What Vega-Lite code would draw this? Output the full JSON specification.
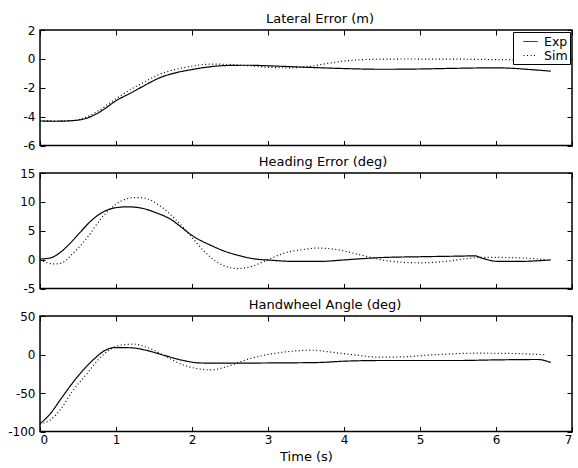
{
  "$schema": "https://vega.github.io/schema/vega-lite/v6.json",
  "padding": {"left": 7, "top": 12, "right": 0, "bottom": 0},
  "background": "white",
  "config": {
    "font": "DejaVu Sans",
    "view": {"stroke": "black", "strokeWidth": 1.5},
    "axis": {
      "domain": false, "grid": false, "tickColor": "black", "tickSize": -5, "tickWidth": 1,
      "labelColor": "black", "labelFont": "DejaVu Sans", "labelFontSize": 12, "labelPadding": 10,
      "labelExpr": "replace(datum.label, '\u2212', '-')",
      "titleFont": "DejaVu Sans", "titleFontSize": 13, "titleFontWeight": "normal", "titleColor": "black"
    },
    "title": {"font": "DejaVu Sans", "fontSize": 13, "fontWeight": "normal", "color": "black", "anchor": "middle", "baseline": "alphabetic", "offset": -2},
    "legend": {"labelFont": "DejaVu Sans", "labelFontSize": 12.5, "labelColor": "black"}
  },
  "datasets": {
    "d": [
      {"p":"lat","s":"Exp","t":0,"v":-4.3},{"p":"lat","s":"Exp","t":0.2,"v":-4.32},{"p":"lat","s":"Exp","t":0.42,"v":-4.28},{"p":"lat","s":"Exp","t":0.62,"v":-4.1},{"p":"lat","s":"Exp","t":0.81,"v":-3.6},{"p":"lat","s":"Exp","t":1.0,"v":-2.9},{"p":"lat","s":"Exp","t":1.2,"v":-2.35},{"p":"lat","s":"Exp","t":1.39,"v":-1.8},{"p":"lat","s":"Exp","t":1.58,"v":-1.3},{"p":"lat","s":"Exp","t":1.78,"v":-0.97},{"p":"lat","s":"Exp","t":2.0,"v":-0.74},{"p":"lat","s":"Exp","t":2.16,"v":-0.6},{"p":"lat","s":"Exp","t":2.45,"v":-0.46},{"p":"lat","s":"Exp","t":2.74,"v":-0.44},{"p":"lat","s":"Exp","t":3.0,"v":-0.48},{"p":"lat","s":"Exp","t":3.5,"v":-0.58},{"p":"lat","s":"Exp","t":4.0,"v":-0.67},{"p":"lat","s":"Exp","t":4.5,"v":-0.72},{"p":"lat","s":"Exp","t":5.0,"v":-0.7},{"p":"lat","s":"Exp","t":5.5,"v":-0.65},{"p":"lat","s":"Exp","t":6.0,"v":-0.62},{"p":"lat","s":"Exp","t":6.2,"v":-0.65},{"p":"lat","s":"Exp","t":6.45,"v":-0.74},{"p":"lat","s":"Exp","t":6.72,"v":-0.85},
      {"p":"lat","s":"Sim","t":0,"v":-4.3},{"p":"lat","s":"Sim","t":0.4,"v":-4.28},{"p":"lat","s":"Sim","t":0.6,"v":-4.05},{"p":"lat","s":"Sim","t":0.8,"v":-3.5},{"p":"lat","s":"Sim","t":1.0,"v":-2.75},{"p":"lat","s":"Sim","t":1.2,"v":-2.1},{"p":"lat","s":"Sim","t":1.39,"v":-1.55},{"p":"lat","s":"Sim","t":1.58,"v":-1.05},{"p":"lat","s":"Sim","t":1.78,"v":-0.74},{"p":"lat","s":"Sim","t":1.95,"v":-0.55},{"p":"lat","s":"Sim","t":2.1,"v":-0.42},{"p":"lat","s":"Sim","t":2.3,"v":-0.36},{"p":"lat","s":"Sim","t":2.5,"v":-0.4},{"p":"lat","s":"Sim","t":2.8,"v":-0.5},{"p":"lat","s":"Sim","t":3.0,"v":-0.58},{"p":"lat","s":"Sim","t":3.3,"v":-0.62},{"p":"lat","s":"Sim","t":3.55,"v":-0.52},{"p":"lat","s":"Sim","t":3.8,"v":-0.3},{"p":"lat","s":"Sim","t":4.1,"v":-0.1},{"p":"lat","s":"Sim","t":4.3,"v":-0.04},{"p":"lat","s":"Sim","t":4.8,"v":-0.01},{"p":"lat","s":"Sim","t":5.5,"v":-0.02},{"p":"lat","s":"Sim","t":6.0,"v":-0.05},{"p":"lat","s":"Sim","t":6.7,"v":-0.08},
      {"p":"head","s":"Exp","t":0,"v":0.1},{"p":"head","s":"Exp","t":0.14,"v":0.3},{"p":"head","s":"Exp","t":0.23,"v":0.9},{"p":"head","s":"Exp","t":0.38,"v":2.6},{"p":"head","s":"Exp","t":0.52,"v":4.6},{"p":"head","s":"Exp","t":0.67,"v":6.7},{"p":"head","s":"Exp","t":0.81,"v":8.1},{"p":"head","s":"Exp","t":0.96,"v":8.9},{"p":"head","s":"Exp","t":1.15,"v":9.15},{"p":"head","s":"Exp","t":1.34,"v":8.9},{"p":"head","s":"Exp","t":1.53,"v":8.1},{"p":"head","s":"Exp","t":1.73,"v":6.9},{"p":"head","s":"Exp","t":1.87,"v":5.5},{"p":"head","s":"Exp","t":2.0,"v":4.2},{"p":"head","s":"Exp","t":2.13,"v":3.2},{"p":"head","s":"Exp","t":2.26,"v":2.4},{"p":"head","s":"Exp","t":2.4,"v":1.6},{"p":"head","s":"Exp","t":2.55,"v":0.95},{"p":"head","s":"Exp","t":2.84,"v":0.1},{"p":"head","s":"Exp","t":3.03,"v":-0.1},{"p":"head","s":"Exp","t":3.32,"v":-0.3},{"p":"head","s":"Exp","t":3.7,"v":-0.3},{"p":"head","s":"Exp","t":4.0,"v":-0.05},{"p":"head","s":"Exp","t":4.48,"v":0.35},{"p":"head","s":"Exp","t":5.0,"v":0.5},{"p":"head","s":"Exp","t":5.49,"v":0.6},{"p":"head","s":"Exp","t":5.72,"v":0.65},{"p":"head","s":"Exp","t":5.83,"v":0.2},{"p":"head","s":"Exp","t":6.02,"v":-0.3},{"p":"head","s":"Exp","t":6.31,"v":-0.3},{"p":"head","s":"Exp","t":6.72,"v":-0.05},
      {"p":"head","s":"Sim","t":0,"v":0},{"p":"head","s":"Sim","t":0.18,"v":-0.75},{"p":"head","s":"Sim","t":0.28,"v":-0.6},{"p":"head","s":"Sim","t":0.42,"v":0.9},{"p":"head","s":"Sim","t":0.62,"v":3.8},{"p":"head","s":"Sim","t":0.81,"v":7.2},{"p":"head","s":"Sim","t":1.0,"v":9.6},{"p":"head","s":"Sim","t":1.24,"v":10.75},{"p":"head","s":"Sim","t":1.39,"v":10.6},{"p":"head","s":"Sim","t":1.58,"v":9.3},{"p":"head","s":"Sim","t":1.78,"v":7.0},{"p":"head","s":"Sim","t":1.97,"v":4.3},{"p":"head","s":"Sim","t":2.16,"v":1.45},{"p":"head","s":"Sim","t":2.35,"v":-0.6},{"p":"head","s":"Sim","t":2.6,"v":-1.55},{"p":"head","s":"Sim","t":2.79,"v":-1.15},{"p":"head","s":"Sim","t":3.0,"v":0},{"p":"head","s":"Sim","t":3.22,"v":1.15},{"p":"head","s":"Sim","t":3.46,"v":1.75},{"p":"head","s":"Sim","t":3.66,"v":2.0},{"p":"head","s":"Sim","t":3.9,"v":1.75},{"p":"head","s":"Sim","t":4.19,"v":0.9},{"p":"head","s":"Sim","t":4.48,"v":0},{"p":"head","s":"Sim","t":4.77,"v":-0.45},{"p":"head","s":"Sim","t":5.0,"v":-0.55},{"p":"head","s":"Sim","t":5.35,"v":-0.3},{"p":"head","s":"Sim","t":5.63,"v":0.2},{"p":"head","s":"Sim","t":5.83,"v":0.4},{"p":"head","s":"Sim","t":6.21,"v":0.35},{"p":"head","s":"Sim","t":6.65,"v":0},
      {"p":"hw","s":"Exp","t":0,"v":-90},{"p":"hw","s":"Exp","t":0.135,"v":-77},{"p":"hw","s":"Exp","t":0.28,"v":-57},{"p":"hw","s":"Exp","t":0.42,"v":-38},{"p":"hw","s":"Exp","t":0.57,"v":-20},{"p":"hw","s":"Exp","t":0.71,"v":-6},{"p":"hw","s":"Exp","t":0.86,"v":5.6},{"p":"hw","s":"Exp","t":1.0,"v":9},{"p":"hw","s":"Exp","t":1.2,"v":8.7},{"p":"hw","s":"Exp","t":1.39,"v":5.6},{"p":"hw","s":"Exp","t":1.63,"v":-1},{"p":"hw","s":"Exp","t":1.87,"v":-7.4},{"p":"hw","s":"Exp","t":2.11,"v":-11},{"p":"hw","s":"Exp","t":2.45,"v":-11.3},{"p":"hw","s":"Exp","t":3.0,"v":-11},{"p":"hw","s":"Exp","t":3.66,"v":-10.4},{"p":"hw","s":"Exp","t":4.0,"v":-8.7},{"p":"hw","s":"Exp","t":4.5,"v":-7.8},{"p":"hw","s":"Exp","t":5.0,"v":-7.8},{"p":"hw","s":"Exp","t":5.49,"v":-7.8},{"p":"hw","s":"Exp","t":6.0,"v":-7},{"p":"hw","s":"Exp","t":6.55,"v":-6.5},{"p":"hw","s":"Exp","t":6.72,"v":-10.4},
      {"p":"hw","s":"Sim","t":0,"v":-90},{"p":"hw","s":"Sim","t":0.135,"v":-85},{"p":"hw","s":"Sim","t":0.28,"v":-70},{"p":"hw","s":"Sim","t":0.42,"v":-48.5},{"p":"hw","s":"Sim","t":0.62,"v":-24.7},{"p":"hw","s":"Sim","t":0.76,"v":-7.4},{"p":"hw","s":"Sim","t":0.91,"v":5.6},{"p":"hw","s":"Sim","t":1.05,"v":12},{"p":"hw","s":"Sim","t":1.24,"v":13.4},{"p":"hw","s":"Sim","t":1.39,"v":10},{"p":"hw","s":"Sim","t":1.63,"v":-1},{"p":"hw","s":"Sim","t":1.87,"v":-13},{"p":"hw","s":"Sim","t":2.11,"v":-19},{"p":"hw","s":"Sim","t":2.26,"v":-20},{"p":"hw","s":"Sim","t":2.45,"v":-16},{"p":"hw","s":"Sim","t":2.74,"v":-6},{"p":"hw","s":"Sim","t":3.0,"v":0},{"p":"hw","s":"Sim","t":3.32,"v":4.3},{"p":"hw","s":"Sim","t":3.56,"v":5.6},{"p":"hw","s":"Sim","t":3.8,"v":3.5},{"p":"hw","s":"Sim","t":4.09,"v":0},{"p":"hw","s":"Sim","t":4.48,"v":-3.5},{"p":"hw","s":"Sim","t":4.77,"v":-3},{"p":"hw","s":"Sim","t":5.25,"v":0},{"p":"hw","s":"Sim","t":5.73,"v":1.7},{"p":"hw","s":"Sim","t":6.21,"v":1.3},{"p":"hw","s":"Sim","t":6.65,"v":-0.4}
    ]
  },
  "data": {"name": "d"},
  "spacing": 27,
  "bounds": "flush",
  "resolve": {"scale": {"strokeDash": "independent"}, "legend": {"strokeDash": "independent"}},
  "vconcat": [
    {
      "width": 532, "height": 115.5,
      "title": {"text": "Lateral Error (m)", "dx": 14},
      "transform": [{"filter": "datum.p === 'lat'"}],
      "layer": [
        {
          "mark": {"type": "line", "color": "black", "strokeWidth": 1.2, "interpolate": "monotone"},
          "encoding": {
            "x": {"field": "t", "type": "quantitative", "scale": {"domain": [0, 7], "nice": false}, "axis": {"orient": "bottom", "values": [0,1,2,3,4,5,6,7], "labels": false, "title": null}},
            "y": {"field": "v", "type": "quantitative", "scale": {"domain": [-6, 2], "nice": false}, "axis": {"orient": "left", "values": [-6,-4,-2,0,2], "title": null}},
            "strokeDash": {"field": "s", "type": "nominal", "scale": {"domain": ["Exp", "Sim"], "range": [[1, 0], [1, 2.5]]},
              "legend": {"title": null, "orient": "top-right", "offset": 2, "symbolType": "stroke", "symbolStrokeColor": "black", "symbolStrokeWidth": 1, "symbolSize": 196, "symbolOffset": 8, "labelOffset": 6, "strokeColor": "black", "fillColor": "white", "padding": 2, "rowPadding": 0}}
          }
        },
        {
          "mark": {"type": "point", "opacity": 0},
          "encoding": {
            "x": {"field": "t", "type": "quantitative", "axis": {"orient": "top", "values": [0,1,2,3,4,5,6,7], "labels": false, "title": null}},
            "y": {"field": "v", "type": "quantitative", "axis": {"orient": "right", "values": [-6,-4,-2,0,2], "labels": false, "title": null}}
          }
        }
      ],
      "resolve": {"axis": {"x": "independent", "y": "independent"}}
    },
    {
      "width": 532, "height": 115.5,
      "title": {"text": "Heading Error (deg)", "dx": 17},
      "transform": [{"filter": "datum.p === 'head'"}],
      "layer": [
        {
          "mark": {"type": "line", "color": "black", "strokeWidth": 1.2, "interpolate": "monotone"},
          "encoding": {
            "x": {"field": "t", "type": "quantitative", "scale": {"domain": [0, 7], "nice": false}, "axis": {"orient": "bottom", "values": [0,1,2,3,4,5,6,7], "labels": false, "title": null}},
            "y": {"field": "v", "type": "quantitative", "scale": {"domain": [-5, 15], "nice": false}, "axis": {"orient": "left", "values": [-5,0,5,10,15], "title": null}},
            "strokeDash": {"field": "s", "type": "nominal", "scale": {"domain": ["Exp", "Sim"], "range": [[1, 0], [1, 2.5]]}, "legend": null}
          }
        },
        {
          "mark": {"type": "point", "opacity": 0},
          "encoding": {
            "x": {"field": "t", "type": "quantitative", "axis": {"orient": "top", "values": [0,1,2,3,4,5,6,7], "labels": false, "title": null}},
            "y": {"field": "v", "type": "quantitative", "axis": {"orient": "right", "values": [-5,0,5,10,15], "labels": false, "title": null}}
          }
        }
      ],
      "resolve": {"axis": {"x": "independent", "y": "independent"}}
    },
    {
      "width": 532, "height": 115.5,
      "title": {"text": "Handwheel Angle (deg)", "dx": 19},
      "transform": [{"filter": "datum.p === 'hw'"}],
      "layer": [
        {
          "mark": {"type": "line", "color": "black", "strokeWidth": 1.2, "interpolate": "monotone"},
          "encoding": {
            "x": {"field": "t", "type": "quantitative", "scale": {"domain": [0, 7], "nice": false}, "axis": {"orient": "bottom", "values": [0,1,2,3,4,5,6,7], "labelPadding": 8, "title": "Time (s)", "titlePadding": 5}},
            "y": {"field": "v", "type": "quantitative", "scale": {"domain": [-100, 50], "nice": false}, "axis": {"orient": "left", "values": [-100,-50,0,50], "title": null}},
            "strokeDash": {"field": "s", "type": "nominal", "scale": {"domain": ["Exp", "Sim"], "range": [[1, 0], [1, 2.5]]}, "legend": null}
          }
        },
        {
          "mark": {"type": "point", "opacity": 0},
          "encoding": {
            "x": {"field": "t", "type": "quantitative", "axis": {"orient": "top", "values": [0,1,2,3,4,5,6,7], "labels": false, "title": null}},
            "y": {"field": "v", "type": "quantitative", "axis": {"orient": "right", "values": [-100,-50,0,50], "labels": false, "title": null}}
          }
        }
      ],
      "resolve": {"axis": {"x": "independent", "y": "independent"}}
    }
  ]
}
